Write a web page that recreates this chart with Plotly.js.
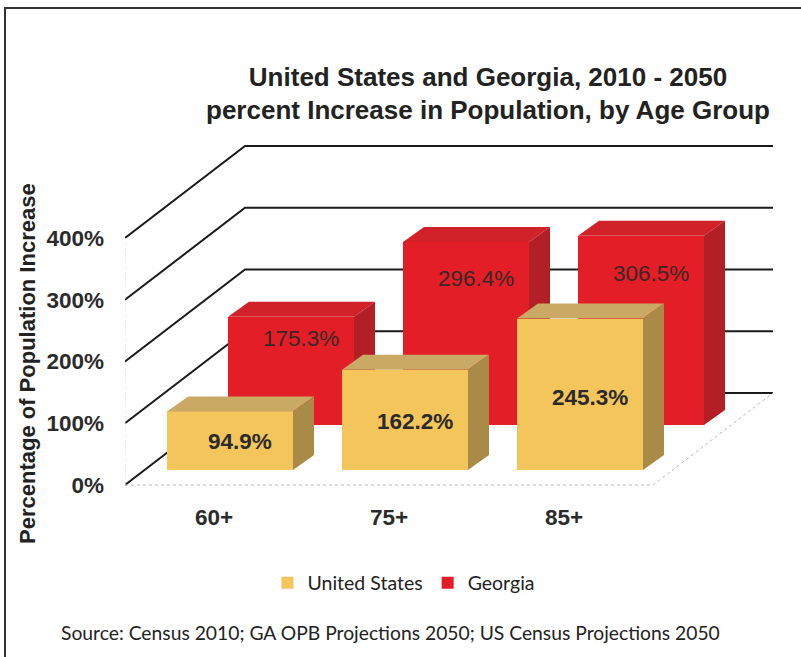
<!DOCTYPE html>
<html><head><meta charset="utf-8">
<script src="https://cdn.plot.ly/plotly-3.0.1.min.js"></script>
<style>html,body{margin:0;padding:0;background:#fff}</style>
</head><body><div id="chart" style="width:801px;height:657px"></div>
<script>
// ---- data ----
const categories = ['60+', '75+', '85+'];
const usValues = [94.9, 162.2, 245.3];
const gaValues = [175.3, 296.4, 306.5];
const seriesNames = ['United States', 'Georgia'];
const yTickValues = [0, 100, 200, 300, 400];
const yTickLabels = ['0%', '100%', '200%', '300%', '400%'];
const titleText = 'United States and Georgia, 2010 - 2050<br>percent Increase in Population, by Age Group';
const yTitle = 'Percentage of Population Increase';
const sourceText = 'Source: Census 2010; GA OPB Projections 2050; US Census Projections 2050';

// ---- geometry (oblique 3-D look) ----
const PX = 175, PY = 0.6175, X0 = 214, Y0 = 485;
const toX = p => (p - X0) / PX, toY = q => (Y0 - q) / PY;
const PL = 125, PR = 775, PT = 140, PB = 490;
const px2paperX = p => (p - PL) / (PR - PL), px2paperY = q => (PB - q) / (PB - PT);
const xRange = [toX(PL), toX(PR)];
const yRange = [toY(PB), toY(PT)];
const wallDX = 120 / PX, wallDY = 92 / PY;
const wallLeft = toX(125), floorRight = toX(653);
const barW = 126 / PX, depthDX = 21 / PX, depthDY = 15 / PY;
const labelShift = 10 / PX;
const rows = {
  us: {left: toX(167), base: toY(470), front: '#F4C55B', top: '#C9A964', side: '#A98B47', frac: 0.48, xa: 'x2', ya: 'y2', font: {weight: 700, color: '#2a2a2a'}},
  ga: {left: toX(228), base: toY(425), front: '#E31E26', top: '#D02228', side: '#B21F25', frac: 0.80, xa: 'x', ya: 'y', font: {weight: 400, color: '#3a2626'}}
};

function seriesTraces(row, values, name) {
  const xs = values.map((v, i) => i + row.left + barW / 2);
  const bar = {type: 'bar', name: name, x: xs, y: values, base: values.map(() => row.base), width: barW,
    marker: {color: row.front, line: {width: 0}}, xaxis: row.xa, yaxis: row.ya, hoverinfo: 'skip'};
  const tx = [], ty = [], sx = [], sy = [];
  values.forEach((v, i) => {
    const l = i + row.left, r = l + barW, b = row.base, t = row.base + v;
    tx.push(l, r, r + depthDX, l + depthDX, l, null);
    ty.push(t, t, t + depthDY, t + depthDY, t, null);
    sx.push(r, r, r + depthDX, r + depthDX, r, null);
    sy.push(b, t, t + depthDY, b + depthDY, b, null);
  });
  const top = {type: 'scatter', mode: 'lines', x: tx, y: ty, fill: 'toself', fillcolor: row.top,
    line: {width: 0, color: row.top}, showlegend: false, hoverinfo: 'skip', xaxis: row.xa, yaxis: row.ya};
  const side = {type: 'scatter', mode: 'lines', x: sx, y: sy, fill: 'toself', fillcolor: row.side,
    line: {width: 0, color: row.side}, showlegend: false, hoverinfo: 'skip', xaxis: row.xa, yaxis: row.ya};
  return [bar, top, side];
}

const data = [...seriesTraces(rows.us, usValues, seriesNames[0]), ...seriesTraces(rows.ga, gaValues, seriesNames[1])];

// gridlines on left wall + back wall
const shapes = yTickValues.map(v => ({
  type: 'path', xref: 'x', yref: 'y', layer: 'below',
  path: `M${wallLeft},${v} L${wallLeft + wallDX},${v + wallDY} L${floorRight + wallDX},${v + wallDY}`,
  line: {color: '#1a1a1a', width: 2}
}));
shapes.push({type: 'path', xref: 'x', yref: 'y', layer: 'below',
  path: `M${wallLeft},0 L${floorRight},0 L${floorRight + wallDX},${wallDY}`,
  line: {color: '#b8b8b8', width: 1, dash: 'dot'}});
shapes.push({type: 'line', xref: 'x', yref: 'y', layer: 'below', x0: wallLeft, x1: wallLeft, y0: 0, y1: yTickValues[yTickValues.length - 1],
  line: {color: '#d0d8e0', width: 1, dash: 'dot'}});
// outer frame
shapes.push({type: 'rect', xref: 'paper', yref: 'paper', x0: px2paperX(5), x1: px2paperX(812), y0: px2paperY(668), y1: px2paperY(8),
  line: {color: '#333', width: 2}});

const annotations = [];
[[rows.us, usValues], [rows.ga, gaValues]].forEach(([row, vals]) => {
  vals.forEach((v, i) => annotations.push({
    xref: row.xa, yref: row.ya, x: i + row.left + barW / 2 + labelShift, y: row.base + row.frac * v,
    text: v.toFixed(1) + '%', showarrow: false,
    font: Object.assign({family: 'Liberation Sans, Arial, sans-serif', size: 22.5}, row.font)
  }));
});
annotations.push({xref: 'paper', yref: 'paper', x: px2paperX(27), y: px2paperY(364), xanchor: 'center', yanchor: 'middle',
  text: yTitle, textangle: -90, showarrow: false,
  font: {family: 'Liberation Sans, Arial, sans-serif', size: 22, color: '#222', weight: 700}});
annotations.push({xref: 'paper', yref: 'paper', x: px2paperX(390), y: px2paperY(632), xanchor: 'center', yanchor: 'middle',
  text: sourceText, showarrow: false, font: {family: 'Lato, sans-serif', size: 19.3, color: '#222'}});

const axFont = {family: 'Liberation Sans, Arial, sans-serif', size: 22.5, color: '#2b2b2b', weight: 700};
const layout = {
  width: 801, height: 657,
  margin: {l: PL, r: 801 - PR, t: PT, b: 657 - PB},
  paper_bgcolor: '#fff', plot_bgcolor: 'rgba(0,0,0,0)',
  title: {text: titleText, x: 488 / 801, xanchor: 'center', y: 1 - 85.5 / 657, yanchor: 'middle',
    font: {family: 'Liberation Sans, Arial, sans-serif', size: 26, color: '#222', weight: 700}},
  xaxis: {type: 'linear', range: xRange, showgrid: false, zeroline: false, showline: false,
    tickvals: categories.map((c, i) => i), ticktext: categories, ticks: '', ticklabelstandoff: 11, tickfont: axFont, fixedrange: true},
  yaxis: {range: yRange, showgrid: false, zeroline: false, showline: false,
    tickvals: yTickValues, ticktext: yTickLabels, ticks: '', ticklabelstandoff: 20, tickfont: axFont, fixedrange: true},
  xaxis2: {type: 'linear', range: xRange, overlaying: 'x', anchor: 'y2', visible: false, fixedrange: true},
  yaxis2: {range: yRange, overlaying: 'y', anchor: 'x2', visible: false, fixedrange: true},
  showlegend: true,
  legend: {orientation: 'h', x: px2paperX(404), xanchor: 'center', y: px2paperY(583), yanchor: 'middle',
    font: {family: 'Lato, sans-serif', size: 19.5, color: '#222'}, itemwidth: 30, traceorder: 'normal'},
  shapes: shapes, annotations: annotations,
  bargap: 0, hovermode: false
};
Plotly.newPlot('chart', data, layout, {staticPlot: true, displayModeBar: false});
</script></body></html>
